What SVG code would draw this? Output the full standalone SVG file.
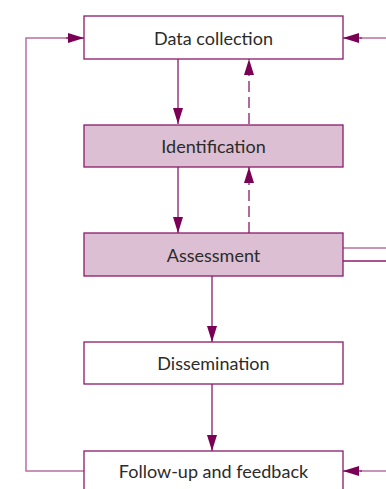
<svg xmlns="http://www.w3.org/2000/svg" width="386" height="489" viewBox="0 0 386 489">
<defs>
<style>
.box{fill:#ffffff;stroke:#8a1a6a;stroke-width:1.3}
.shade{fill:#dcbfd2}
.lbl{font-family:Lato,"Open Sans",sans-serif;font-size:18px;fill:#2b2b2b;text-anchor:middle;dominant-baseline:central}
.ln{fill:none;stroke:#8a1a6a;stroke-width:1.3}
.lt{fill:none;stroke:#b870a0;stroke-width:1.5}
.dash{stroke-dasharray:11,5}
</style>
<marker id="ahL" viewBox="0 0 16 10" refX="16" refY="5" markerWidth="16" markerHeight="10" markerUnits="userSpaceOnUse" orient="auto">
<path d="M0,0 L16,5 L0,10 Z" fill="#7a0055"/>
</marker>
</defs>
<g id="connectors">
<line class="ln" x1="178" y1="59" x2="178" y2="124" marker-end="url(#ahL)"/>
<line class="ln dash" x1="249" y1="124" x2="249" y2="59" marker-end="url(#ahL)"/>
<line class="ln" x1="178" y1="167" x2="178" y2="233" marker-end="url(#ahL)"/>
<line class="ln dash" x1="249" y1="233" x2="249" y2="167" marker-end="url(#ahL)"/>
<line class="ln" x1="212" y1="276" x2="212" y2="342" marker-end="url(#ahL)"/>
<line class="ln" x1="212" y1="384" x2="212" y2="451" marker-end="url(#ahL)"/>
<polyline class="lt" points="84,471 26,471 26,38 70,38"/>
<line class="ln" x1="66" y1="38" x2="84" y2="38" marker-end="url(#ahL)"/>
<line class="lt" x1="386" y1="38" x2="360" y2="38"/>
<line class="ln" x1="362" y1="38" x2="343" y2="38" marker-end="url(#ahL)"/>
<line class="lt" x1="386" y1="471" x2="360" y2="471"/>
<line class="ln" x1="362" y1="471" x2="343" y2="471" marker-end="url(#ahL)"/>
<line class="lt" x1="343" y1="248" x2="386" y2="248"/>
<line class="ln" x1="343" y1="261" x2="386" y2="261"/>
</g>
<g id="data-collection">
<rect class="box" x="84" y="16" width="259" height="43"/>
<text class="lbl" x="213.5" y="38">Data collection</text>
</g>
<g id="identification">
<rect class="box shade" x="84" y="125" width="259" height="42"/>
<text class="lbl" x="213.5" y="146">Identification</text>
</g>
<g id="assessment">
<rect class="box shade" x="84" y="233" width="259" height="43"/>
<text class="lbl" x="213.5" y="255">Assessment</text>
</g>
<g id="dissemination">
<rect class="box" x="84" y="342" width="259" height="42"/>
<text class="lbl" x="213.5" y="363">Dissemination</text>
</g>
<g id="follow-up">
<rect class="box" x="84" y="451" width="259" height="43"/>
<text class="lbl" x="213.5" y="471">Follow-up and feedback</text>
</g>
</svg>
